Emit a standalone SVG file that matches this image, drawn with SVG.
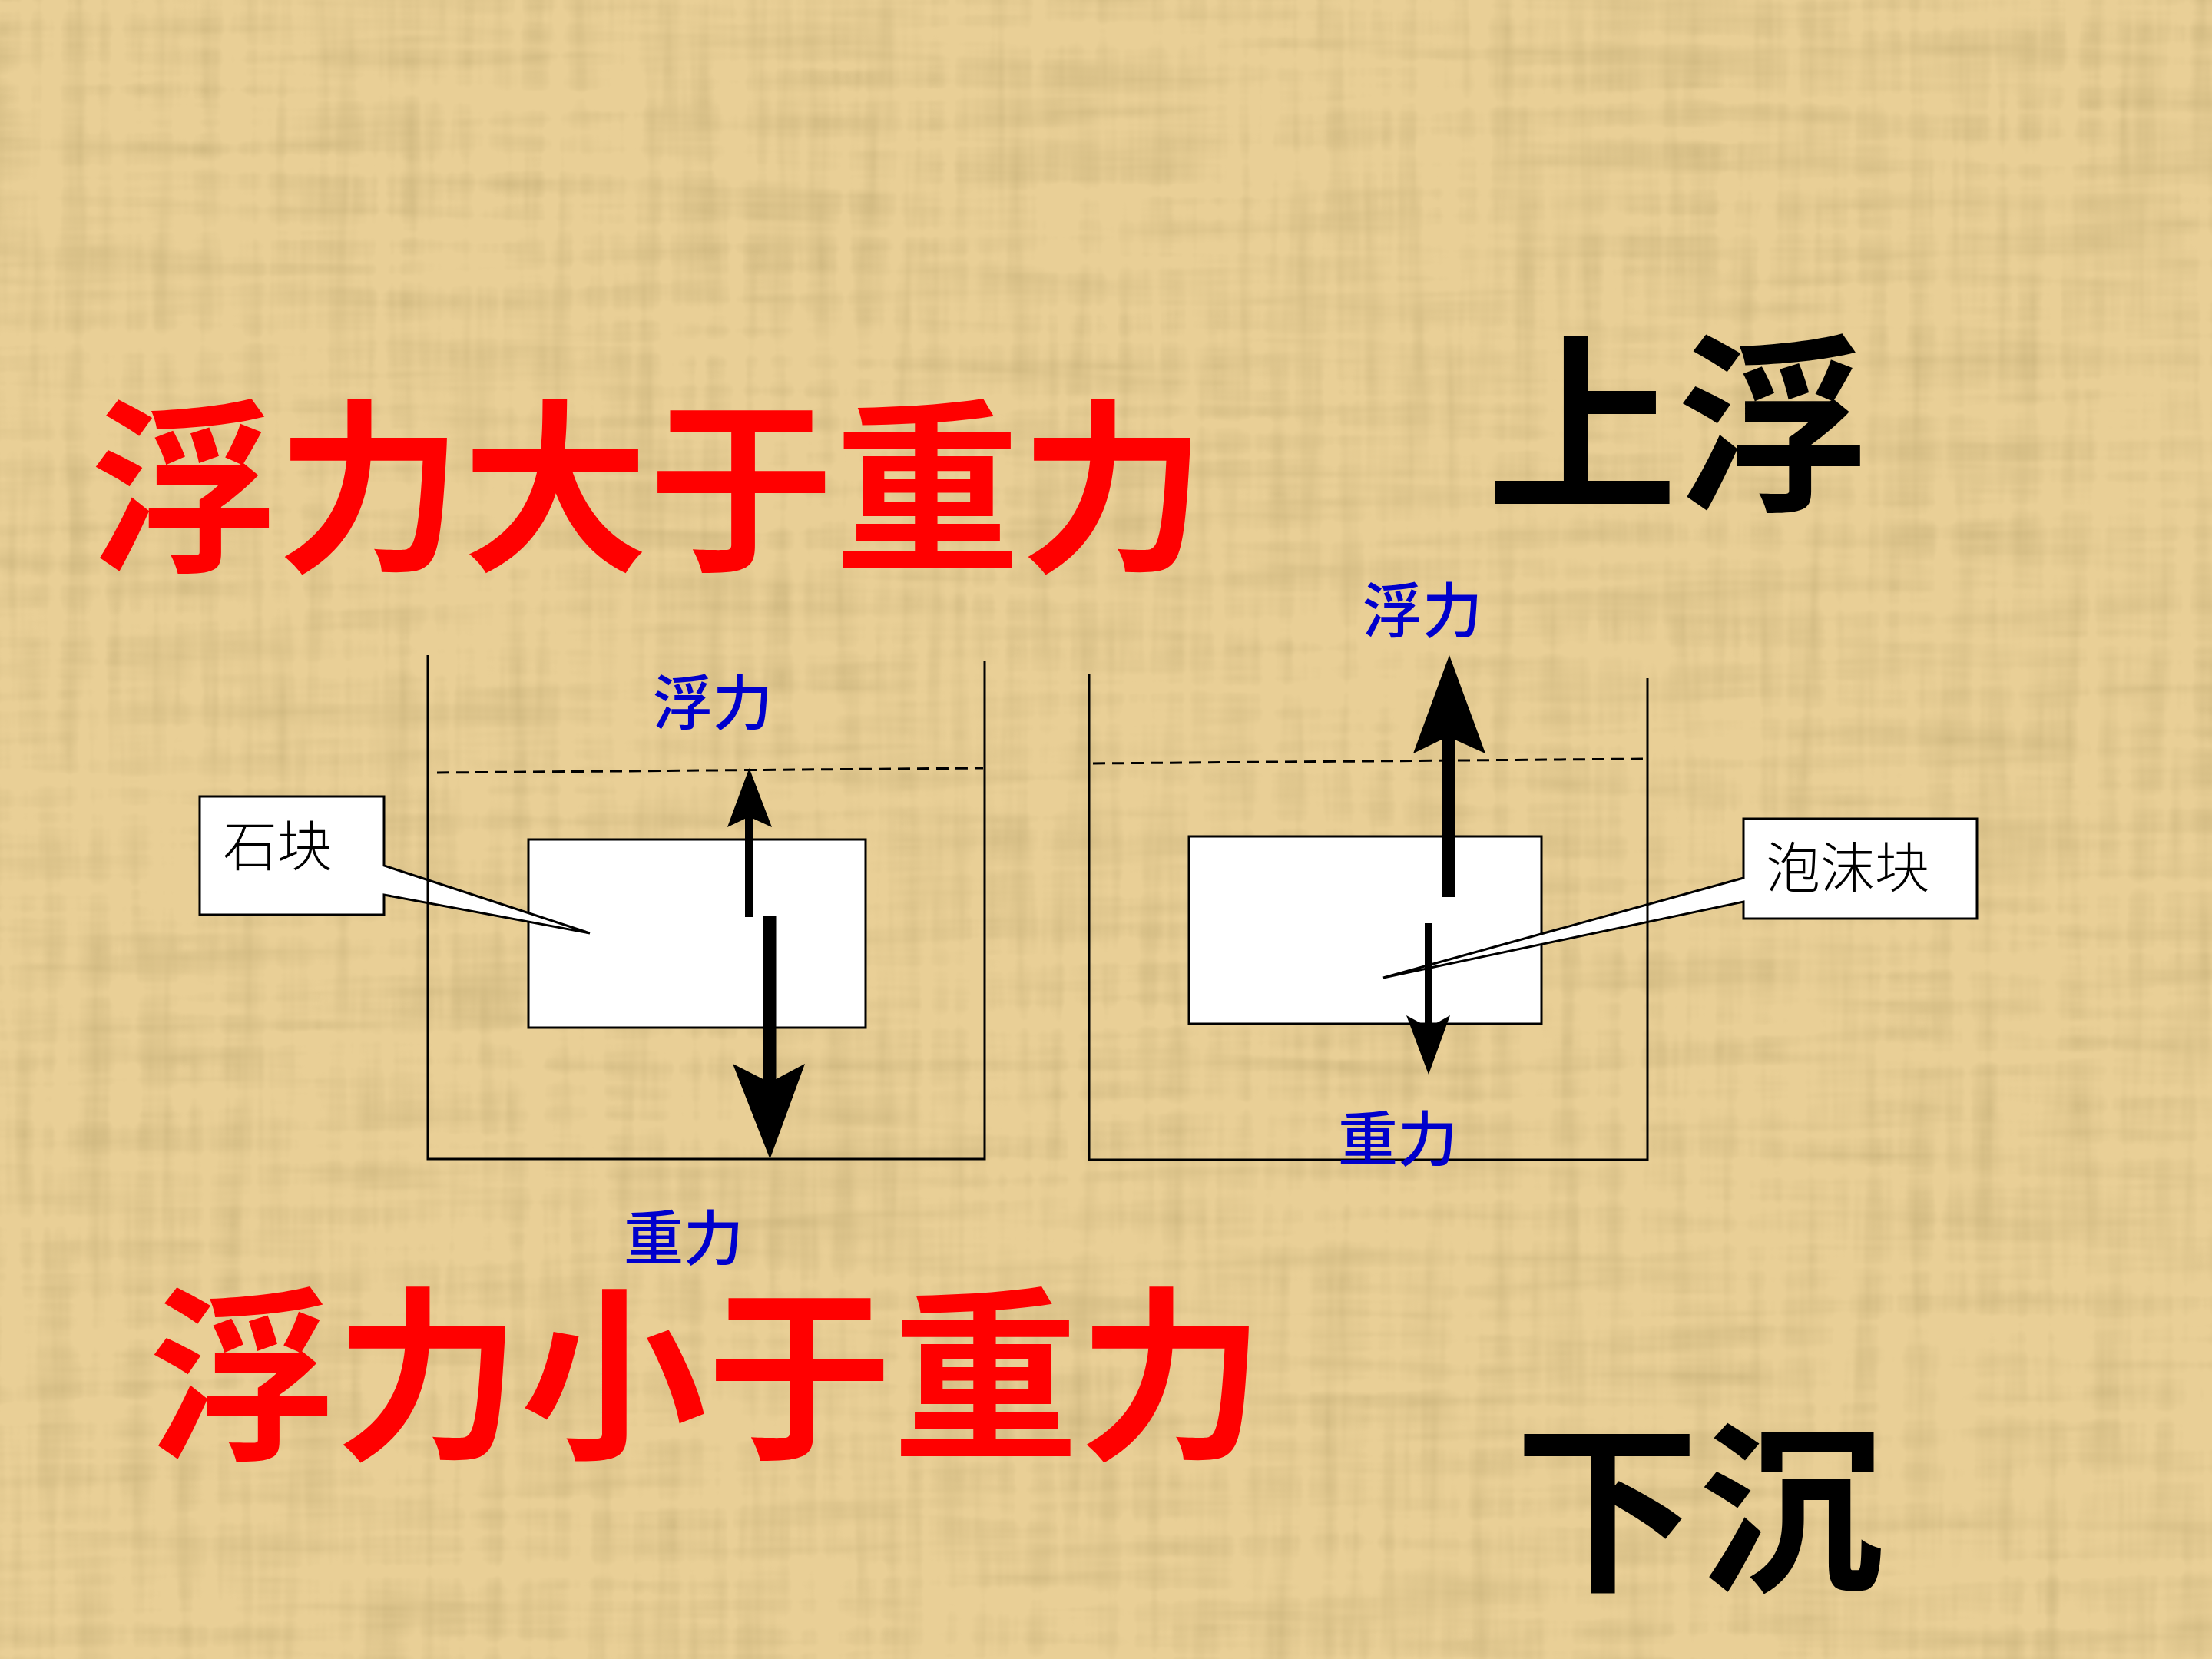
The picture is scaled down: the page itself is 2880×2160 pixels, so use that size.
<svg xmlns="http://www.w3.org/2000/svg" width="2880" height="2160" viewBox="0 0 2880 2160">
<defs>
<style>
.big{font-family:"Noto Sans CJK SC","Noto Sans",sans-serif;font-weight:700}
.red{fill:#FF0000}
.blk{fill:#000000}
.lbl{font-family:"Noto Sans CJK SC","Noto Sans",sans-serif;font-size:78px;fill:#0000CC;font-weight:500;text-anchor:middle}
.cal{font-family:"Noto Sans CJK SC","Noto Sans",sans-serif;font-size:71px;fill:#000000;font-weight:300}
.wall{stroke:#000;stroke-width:3;fill:none}
.water{stroke:#000;stroke-width:3;fill:none;stroke-dasharray:16 9}
.block{fill:#FFFFFF;stroke:#000;stroke-width:3}
.callout{fill:#FFFFFF;stroke:#000;stroke-width:3;stroke-linejoin:miter}
.arrow{fill:#000}
</style>
<filter id="paper" x="0" y="0" width="2880" height="2160" filterUnits="userSpaceOnUse">
<feTurbulence type="fractalNoise" baseFrequency="0.035 0.0025" numOctaves="3" seed="4" result="v"/>
<feTurbulence type="fractalNoise" baseFrequency="0.0025 0.035" numOctaves="3" seed="9" result="h"/>
<feComposite in="v" in2="h" operator="arithmetic" k2="0.5" k3="0.5" result="n"/>
<feColorMatrix in="n" type="matrix" values="0 0 0 0 0.55 0 0 0 0 0.42 0 0 0 0 0.18 1.6 0 0 0 -0.68"/>
</filter>
</defs>
<rect id="background" x="0" y="0" width="2880" height="2160" fill="#E9CF96"/>
<rect x="0" y="0" width="2880" height="2160" fill="#000" filter="url(#paper)"/>

<g id="title-top"><text class="big red" x="118" y="725" font-size="242">浮力大于重力</text></g>
<g id="title-bottom"><text class="big red" x="194" y="1881" font-size="242">浮力小于重力</text></g>
<g id="result-up"><text class="big blk" x="1936" y="645" font-size="248">上浮</text></g>
<g id="result-down"><text class="big blk" x="1972" y="2053" font-size="240">下沉</text></g>

<g id="stone-block"><rect class="block" x="688" y="1093" width="439" height="245"/></g>
<g id="foam-block"><rect class="block" x="1548" y="1089" width="459" height="244"/></g>

<g id="callout-stone">
<path class="callout" d="M260,1037 H500 V1127 L768,1215 L500,1165 V1191 H260 Z"/>
<text class="cal" x="290" y="1127">石块</text>
</g>
<g id="callout-foam">
<path class="callout" d="M2270,1066 H2574 V1196 H2270 V1174 L1801,1273 L2270,1143 Z"/>
<text class="cal" x="2299" y="1155">泡沫块</text>
</g>

<g id="beaker-left">
<path class="wall" d="M557,853 V1509 H1282 V860"/>
<line class="water" x1="569" y1="1006" x2="1280" y2="1000"/>
</g>
<g id="beaker-right">
<path class="wall" d="M1418,877 V1510 H2145 V883"/>
<line class="water" x1="1423" y1="994" x2="2140" y2="988"/>
</g>

<g id="connectors">
<path class="arrow" d="M970,1194 V1066 L947,1077 L975.5,1000 L1005,1077 L981,1066 V1194 Z"/>
<path class="arrow" d="M993.5,1193 V1405 L954,1385 L1002.5,1509 L1048,1385 L1010.5,1405 V1193 Z"/>
<path class="arrow" d="M1877,1168 V963 L1840,981 L1887,853 L1934,981 L1894,963 V1168 Z"/>
<path class="arrow" d="M1855,1202 V1335 L1831,1322 L1860,1399 L1888,1322 L1865,1335 V1202 Z"/>
</g>

<g id="label-buoyancy-left"><text class="lbl" x="928" y="944">浮力</text></g>
<g id="label-gravity-left"><text class="lbl" x="890" y="1641">重力</text></g>
<g id="label-buoyancy-right"><text class="lbl" x="1852" y="824">浮力</text></g>
<g id="label-gravity-right"><text class="lbl" x="1820" y="1512">重力</text></g>
</svg>
